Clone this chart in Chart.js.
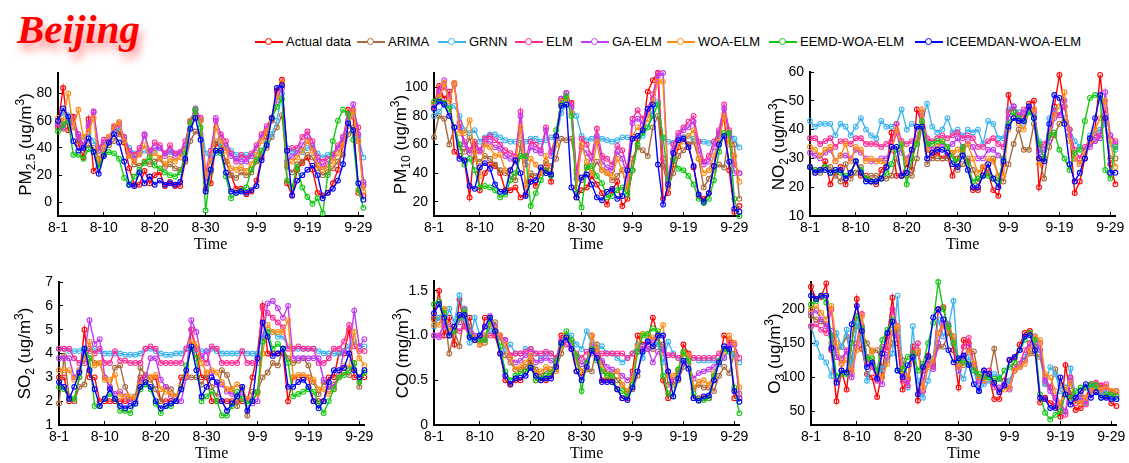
<!DOCTYPE html>
<html>
<head>
<meta charset="utf-8">
<script src="https://cdn.jsdelivr.net/npm/chart.js@4.4.1/dist/chart.umd.min.js"></script>
<style>
  html, body { margin: 0; padding: 0; background: #fff; }
  body { width: 1129px; height: 463px; position: relative; overflow: hidden; font-family: 'Liberation Sans', Arial, sans-serif; }
  #title { position: absolute; left: 17px; top: 5px; line-height: 1; font: italic bold 41px 'Liberation Serif', 'Times New Roman', serif; color: #ff0000; text-shadow: 3px 7px 9px rgba(255, 40, 40, 0.55); }
  #legend { position: absolute; left: 0; top: 34px; width: 1129px; height: 16px; font-size: 13px; line-height: 16px; white-space: nowrap; color: #000; }
  .item { position: absolute; top: 0; display: flex; align-items: center; gap: 3px; }
  .mk { position: relative; width: 28px; height: 2px; background: var(--c); }
  .mk::after { content: ''; position: absolute; left: 10px; top: -3.5px; width: 5px; height: 5px; border: 1.5px solid var(--c); border-radius: 50%; background: #fff; }
  canvas { position: absolute; }
</style>
</head>
<body>
<div id="title">Beijing</div>
<div id="legend"></div>
<script>
const days = ['8-1','8-2','8-3','8-4','8-5','8-6','8-7','8-8','8-9','8-10','8-11','8-12','8-13','8-14','8-15','8-16',
  '8-17','8-18','8-19','8-20','8-21','8-22','8-23','8-24','8-25','8-26','8-27','8-28','8-29','8-30','8-31',
  '9-1','9-2','9-3','9-4','9-5','9-6','9-7','9-8','9-9','9-10','9-11','9-12','9-13','9-14','9-15','9-16',
  '9-17','9-18','9-19','9-20','9-21','9-22','9-23','9-24','9-25','9-26','9-27','9-28','9-29','9-30'];
const tickDays = ['8-1', '8-10', '8-20', '8-30', '9-9', '9-19', '9-29'];

const models = ['Actual data', 'ARIMA', 'GRNN', 'ELM', 'GA-ELM', 'WOA-ELM', 'EEMD-WOA-ELM', 'ICEEMDAN-WOA-ELM'];
const keys = ['actual', 'arima', 'grnn', 'elm', 'gaelm', 'woaelm', 'eemd', 'iceemdan'];
const colors = ['#ff0000', '#a8693c', '#3cb4f0', '#ff2a96', '#bf3cf0', '#ff8c14', '#14c814', '#0000ff'];

const pm25 = {
  actual: [57,84,53,63,43,33,61,23,28,35,45,55,52,44,25,13,13,23,14,20,22,12,15,12,12,30,59,66,62,10,14,43,40,30,20,10,10,6,8,16,33,48,61,82,90,14,5,24,29,33,24,7,5,7,14,24,43,68,63,7,5],
  arima: [55,54,60,58,45,38,42,40,32,38,42,45,50,48,35,28,27,30,28,30,32,26,28,25,24,30,45,52,50,15,22,45,42,30,20,18,22,20,22,30,35,40,48,55,64,26,22,28,30,35,33,25,20,22,25,30,35,50,55,45,12],
  grnn: [58,66,64,56,50,46,50,45,38,42,48,52,55,48,40,36,36,38,37,38,40,36,37,36,36,40,55,64,60,36,34,36,44,42,38,35,34,35,34,35,38,44,50,60,80,40,37,38,37,40,42,36,33,35,36,40,48,60,65,48,33],
  elm: [55,58,60,62,50,42,55,66,40,46,48,55,57,48,38,35,40,49,38,44,42,36,42,36,37,45,60,68,62,22,38,60,50,45,36,30,35,32,36,42,50,56,62,80,86,38,40,40,48,52,45,33,30,32,35,42,48,65,68,55,13],
  gaelm: [58,55,60,58,48,40,58,67,38,44,46,56,58,46,36,32,36,50,36,40,40,34,38,34,36,42,60,69,60,18,32,62,48,40,34,32,30,30,34,40,48,54,60,75,84,30,34,36,42,48,40,30,26,28,33,40,46,60,72,50,15],
  woaelm: [62,60,80,55,68,48,52,62,30,40,48,56,59,45,34,30,35,42,33,36,33,28,32,30,33,38,60,63,60,20,30,55,45,38,25,24,26,23,28,35,45,52,60,78,88,28,30,33,38,45,38,27,24,26,30,36,42,56,67,45,8],
  eemd: [52,57,60,35,35,32,39,37,26,35,37,36,32,18,13,19,24,29,33,27,25,22,20,19,22,36,58,68,55,-6,24,38,36,19,3,7,9,11,24,31,38,43,62,70,76,16,11,26,11,4,-1,3,-8,20,45,60,68,65,46,9,-4],
  iceemdan: [60,69,63,45,38,40,47,37,21,34,44,50,44,30,13,12,22,14,19,13,16,13,14,13,15,32,54,62,46,8,24,38,38,22,8,7,8,7,9,12,31,42,62,84,86,38,5,16,20,24,27,20,3,7,10,16,28,58,53,14,2]
};
const pm10 = {
  actual: [88,101,92,97,55,52,48,23,60,28,40,46,45,40,28,28,30,23,25,36,31,40,44,34,66,92,92,89,23,28,30,38,32,26,18,28,34,17,22,42,64,70,97,105,110,22,26,46,58,65,60,44,24,22,26,45,68,80,42,13,17],
  arima: [65,80,78,60,72,58,55,65,50,48,52,50,46,42,40,38,35,60,32,40,38,42,48,45,50,64,63,64,42,35,45,40,48,42,40,35,38,42,28,50,58,56,52,72,80,45,30,40,52,56,60,62,50,30,36,42,46,44,68,60,22],
  grnn: [80,83,88,87,87,80,70,68,70,62,65,67,67,65,63,62,62,63,62,64,64,62,63,65,64,82,88,86,80,66,63,64,63,64,63,62,63,65,65,64,66,66,72,84,90,64,62,61,64,65,66,64,62,62,61,62,64,66,68,64,58],
  elm: [86,95,100,94,102,75,62,56,62,56,64,66,63,60,56,54,52,83,50,62,60,56,72,55,66,90,96,88,40,64,60,52,71,52,50,46,59,56,43,78,84,78,85,95,110,50,34,60,68,72,76,80,62,48,52,62,70,88,70,46,40],
  gaelm: [87,98,105,92,103,72,60,54,58,55,62,62,58,57,52,50,48,80,46,58,56,54,70,52,64,92,96,86,36,58,54,48,66,48,44,42,55,50,36,75,78,74,82,92,108,110,36,56,66,70,72,76,56,46,48,58,68,85,66,40,40],
  woaelm: [88,93,103,90,103,68,68,77,55,38,60,58,52,53,42,42,48,72,30,50,46,40,52,40,60,90,92,82,30,60,48,40,62,42,40,38,50,42,30,66,72,70,78,90,104,104,30,50,60,62,66,70,50,40,42,52,62,80,60,52,34],
  eemd: [90,91,89,85,72,60,46,50,42,30,31,30,28,23,25,35,40,52,52,17,26,35,42,38,70,88,94,80,26,16,44,45,38,33,23,24,28,30,25,42,60,68,72,80,88,65,35,50,43,42,38,32,22,19,22,35,55,68,68,22,10],
  iceemdan: [85,90,88,80,72,50,49,31,29,44,47,43,32,27,27,42,49,40,24,34,35,44,40,39,66,87,88,30,23,37,39,32,23,21,27,29,22,24,42,64,66,70,85,88,46,18,32,54,63,64,58,45,25,20,26,45,60,66,48,15,13]
};
const no2 = {
  actual: [27,26,26,29,21,25,27,21,25,29,24,24,22,21,26,27,39,24,24,28,26,47,42,33,31,32,30,31,24,30,33,29,19,19,27,25,19,17,28,52,46,43,44,49,50,20,30,38,48,59,48,40,18,22,30,36,40,59,42,28,21],
  arima: [27,25,25,27,27,24,22,28,23,25,27,23,24,24,23,23,24,30,24,24,24,30,42,28,30,30,30,30,32,26,28,30,26,22,24,26,30,24,22,28,35,40,33,33,42,30,23,34,38,42,44,38,30,28,30,35,36,38,43,30,30],
  grnn: [43,41,42,42,42,38,42,41,38,41,44,40,38,37,43,41,41,42,47,40,42,41,42,49,41,39,40,44,39,40,38,40,39,40,35,43,42,37,37,47,48,46,42,48,45,36,30,44,47,45,48,40,36,34,33,38,39,40,42,35,33],
  elm: [37,37,35,36,37,34,36,36,35,37,37,35,35,35,34,35,36,42,36,35,36,37,46,37,36,37,38,37,38,39,37,38,37,34,34,36,37,35,34,46,48,45,47,48,47,34,35,38,46,45,48,40,33,30,34,36,38,38,47,38,36],
  gaelm: [32,31,30,32,33,29,31,31,30,33,32,30,29,29,30,30,33,39,32,30,33,35,45,35,33,34,35,34,35,37,34,36,34,30,30,33,33,31,30,44,48,44,46,47,46,32,33,36,44,45,50,38,30,28,32,34,36,37,53,38,35],
  woaelm: [34,33,31,33,34,29,31,35,29,34,33,29,30,29,29,28,33,40,34,29,32,36,47,33,32,34,36,34,32,33,32,35,30,25,27,30,29,24,24,40,44,42,40,46,47,28,30,38,45,48,53,36,30,28,32,36,40,44,50,36,27],
  eemd: [27,26,26,27,25,26,25,24,25,29,26,23,22,22,23,25,28,33,35,21,30,35,43,35,35,36,36,34,30,29,34,28,22,23,24,24,23,22,30,42,46,44,43,46,44,35,30,38,39,33,30,26,32,33,43,51,52,51,26,23,34],
  iceemdan: [27,25,26,26,25,26,26,23,25,29,25,22,22,22,23,27,34,34,24,25,33,41,41,30,32,33,33,32,28,27,31,26,20,20,24,28,23,20,29,41,44,43,43,48,44,30,29,42,52,51,42,28,22,25,30,37,44,52,44,25,25]
};
const so2 = {
  actual: [3,3,2,2,3,5,3,3,2,2,2,2,2,2,2,2,3,3,3,3,2,2,2,2,3,3,5,4,3,3,2,2,2,2,2,2,2,2,3,4,6,4,4,4,4,2,3,3,3,3,2,2,2,3,3,4,4,5,3,3,3],
  arima: [1.9,3.9,2.2,2.0,2.6,2.7,3.8,3.6,3.6,3.0,2.6,3.4,3.5,2.6,2.1,2.2,3.4,3.1,2.9,2.5,2.0,2.6,2.5,2.2,2.6,3.1,3.0,3.0,2.7,3.1,2.6,2.2,3.3,3.1,2.5,1.8,2.6,1.4,2.4,2.4,3.0,3.2,3.6,3.5,4.2,3.8,3.6,3.7,3.8,3.5,2.8,2.3,2.8,2.5,2.7,3.0,3.2,3.1,3.6,2.6,3.2],
  grnn: [4.2,4.2,4.1,4.1,4.1,4.2,4.1,4.2,4.1,4.0,4.0,4.0,4.0,3.95,3.95,3.95,4.0,4.2,4.2,4.1,4.0,3.95,3.95,4.0,4.0,4.2,4.2,4.15,4.1,4.1,4.2,4.1,4.0,4.0,4.0,4.0,4.1,4.0,4.0,4.0,4.8,5.0,4.9,4.7,4.7,4.3,4.2,4.2,4.2,4.2,4.2,4.1,4.0,4.0,4.0,4.0,4.1,4.3,4.5,4.3,4.3],
  elm: [4.2,4.2,4.2,3.8,3.6,3.6,4.2,4.0,4.2,3.6,3.6,4.1,3.7,3.7,3.6,3.6,3.6,4.2,4.3,4.2,3.6,3.6,3.6,3.6,3.6,4.2,5.0,4.2,3.9,3.6,4.3,4.2,3.6,3.6,3.6,3.6,4.1,3.6,3.6,3.6,5.9,5.7,5.5,5.3,5.1,4.2,4.2,4.3,4.2,4.2,4.2,3.6,3.6,3.8,4.2,4.2,4.5,5.2,4.3,4.1,4.1],
  gaelm: [3.8,3.8,3.8,3.0,3.3,4.0,5.4,4.4,4.6,3.0,2.6,2.3,2.4,2.2,2.0,2.0,2.8,3.0,3.8,3.8,2.9,2.6,2.2,2.0,2.0,3.0,5.4,4.9,3.8,4.1,3.2,2.7,2.7,2.4,2.3,2.2,2.3,2.0,1.9,2.0,4.5,6.1,6.2,5.9,5.5,6.0,3.8,3.8,3.8,3.8,3.8,3.8,2.9,2.6,2.6,3.1,4.1,4.0,5.8,4.3,4.6],
  woaelm: [3.3,3.3,3.3,2.9,3.3,3.8,4.5,3.5,3.6,2.9,2.9,3.1,2.2,2.2,2.2,2.1,2.7,2.8,3.0,3.1,2.5,2.4,2.3,2.2,2.6,3.1,4.5,4.4,3.6,3.2,3.3,3.2,2.8,2.5,2.5,2.7,2.5,2.1,2.0,2.3,4.0,5.2,4.9,4.9,4.9,5.4,3.0,3.1,3.1,3.0,2.9,2.5,2.5,2.3,2.5,3.0,3.5,3.4,4.9,3.8,3.5],
  eemd: [2.6,2.5,2.1,2.1,3.0,4.2,3.8,1.8,1.8,2.1,2.3,2.1,1.6,1.6,1.5,1.9,2.5,2.7,2.5,1.9,1.5,1.8,1.8,2.0,2.5,3.5,4.2,3.8,2.0,2.2,2.4,2.0,1.4,1.4,1.8,2.4,2.1,1.9,2.0,2.4,4.5,4.9,4.2,4.4,4.2,3.6,2.2,2.3,2.4,2.5,2.4,1.9,1.5,2.0,2.5,3.0,3.1,3.3,3.6,2.8,3.2],
  iceemdan: [2.8,2.6,2.1,2.6,3.2,4.2,3.3,2.5,1.8,2.1,2.5,2.1,1.8,1.7,1.8,1.9,2.6,2.8,2.6,2.0,1.7,1.8,1.9,2.0,2.5,3.3,4.3,3.3,2.2,2.6,3.0,2.8,2.0,1.6,1.9,2.2,2.6,1.6,2.0,3.8,5.3,4.7,3.9,4.0,4.2,2.6,2.6,2.8,2.9,2.6,2.0,1.7,2.0,2.8,3.3,3.3,3.4,4.0,3.3,3.0,3.3]
};
const co = {
  actual: [1.2,1.5,1.0,1.2,0.9,1.4,1.1,1.2,0.95,0.9,1.2,1.2,1.0,0.8,0.5,0.45,0.5,0.5,0.6,0.7,0.5,0.5,0.5,0.55,0.7,1.0,1.0,0.9,0.6,0.55,0.7,1.0,0.8,0.5,0.5,0.5,0.4,0.3,0.3,0.6,1.0,0.9,0.95,1.2,1.0,0.5,0.3,0.5,0.6,0.9,0.8,0.3,0.3,0.3,0.3,0.5,0.7,1.0,0.95,0.3,0.3],
  arima: [1.18,1.2,1.28,0.8,1.05,0.88,1.25,1.1,0.98,0.98,0.92,1.1,1.15,0.98,0.78,0.7,0.62,0.62,0.65,0.72,0.62,0.55,0.6,0.62,0.62,0.8,0.95,0.92,0.72,0.6,0.62,0.6,0.9,0.7,0.58,0.58,0.5,0.45,0.35,0.4,0.55,0.88,0.85,0.85,0.92,0.9,0.45,0.45,0.5,0.65,0.75,0.4,0.45,0.42,0.42,0.38,0.55,0.65,0.58,0.8,0.35],
  grnn: [1.1,1.2,1.1,1.3,1.15,1.45,1.2,0.92,1.2,1.0,1.0,1.05,1.05,1.0,0.85,0.9,0.8,0.8,0.85,0.85,0.8,0.75,0.8,0.8,0.75,0.9,1.0,1.0,0.9,0.85,1.05,0.9,0.85,0.88,0.8,0.8,0.75,0.7,0.75,0.8,0.9,0.75,0.95,0.95,0.9,0.7,0.93,0.8,0.75,0.72,0.75,0.75,0.72,0.72,0.72,0.72,0.68,0.75,0.85,0.78,0.7],
  elm: [1.0,1.0,1.12,1.0,1.1,1.05,1.1,1.0,0.98,0.95,0.98,1.0,1.02,0.98,0.95,0.78,0.8,0.8,0.82,0.85,0.8,0.8,0.82,0.8,0.75,0.95,0.9,0.85,0.8,0.75,0.82,0.8,0.8,0.8,0.8,0.8,0.8,0.8,0.75,0.8,0.82,0.85,0.9,0.95,0.98,0.8,0.78,0.78,0.75,0.8,0.78,0.75,0.75,0.75,0.75,0.75,0.8,0.85,0.92,0.9,0.75],
  gaelm: [1.0,0.98,1.15,1.1,1.1,1.15,1.3,1.05,1.0,0.95,1.1,1.22,1.1,1.0,0.95,0.75,0.7,0.72,0.78,0.8,0.7,0.72,0.75,0.72,0.68,0.9,0.95,0.9,0.75,0.68,0.72,0.88,0.8,0.72,0.65,0.62,0.6,0.55,0.5,0.55,0.82,0.88,0.85,0.7,0.82,0.85,0.6,0.5,0.58,0.7,0.68,0.52,0.58,0.6,0.62,0.65,0.72,0.75,0.88,0.9,0.3],
  woaelm: [1.12,1.12,1.3,1.05,1.1,1.2,1.25,1.0,0.98,0.9,1.0,1.15,1.08,1.0,0.9,0.75,0.62,0.65,0.7,0.78,0.58,0.6,0.65,0.62,0.6,0.88,1.0,0.95,0.7,0.6,0.65,1.0,0.85,0.62,0.55,0.55,0.6,0.45,0.38,0.52,0.88,1.02,1.0,0.98,1.0,1.12,0.55,0.55,0.62,0.8,0.78,0.42,0.48,0.5,0.45,0.58,0.7,0.82,1.0,0.92,0.42],
  eemd: [1.35,1.38,1.25,1.0,1.05,1.2,1.28,1.0,0.95,0.95,0.95,1.18,1.05,0.88,0.6,0.5,0.55,0.58,0.6,0.65,0.5,0.52,0.55,0.58,0.72,0.9,1.05,0.95,0.78,0.38,0.7,0.85,0.72,0.6,0.55,0.55,0.4,0.38,0.32,0.45,0.82,1.0,1.02,1.08,1.05,0.55,0.35,0.32,0.62,0.82,0.72,0.35,0.28,0.28,0.3,0.55,0.72,0.85,0.82,0.42,0.13],
  iceemdan: [1.25,1.35,1.2,1.0,1.1,1.23,1.23,0.98,0.95,1.0,1.1,1.2,1.05,0.8,0.55,0.46,0.52,0.53,0.55,0.64,0.55,0.5,0.52,0.52,0.65,0.92,0.98,0.85,0.6,0.5,0.65,0.83,0.75,0.48,0.48,0.48,0.4,0.3,0.28,0.42,0.6,0.82,0.93,0.88,1.0,1.0,0.6,0.32,0.52,0.72,0.63,0.3,0.27,0.32,0.33,0.5,0.7,0.88,0.85,0.38,0.26]
};
const o3 = {
  actual: [233,215,218,238,140,65,110,82,150,215,142,105,100,71,110,160,217,150,82,98,145,66,110,132,120,200,203,170,140,85,155,150,118,80,110,100,68,68,95,125,128,148,165,168,145,63,70,62,58,42,118,72,52,55,70,90,80,88,72,62,58],
  arima: [190,185,182,178,150,140,145,160,125,175,165,150,138,140,115,130,150,170,125,100,130,135,110,125,118,145,145,165,155,118,118,140,138,100,100,102,142,98,90,95,110,115,125,135,135,130,92,85,112,88,85,80,65,75,85,88,90,85,85,80,80],
  grnn: [175,150,130,122,102,165,145,170,115,180,155,95,120,100,112,125,135,220,110,85,175,95,70,95,128,185,160,175,212,110,98,130,110,80,90,95,105,100,90,95,115,120,130,150,160,140,90,115,105,80,75,113,72,65,62,85,88,78,80,70,68],
  elm: [175,178,170,165,200,130,120,140,105,150,193,120,115,95,145,140,200,175,95,88,138,150,80,118,115,165,180,175,160,120,145,158,120,95,100,110,85,80,90,85,115,120,140,150,160,150,100,85,70,58,45,100,62,65,60,80,92,88,90,78,75],
  gaelm: [195,198,185,175,168,130,128,138,100,145,175,130,120,100,90,130,165,160,100,95,130,140,95,120,112,150,178,178,150,110,130,145,115,95,95,105,90,85,88,82,110,115,125,145,150,140,95,80,65,62,50,95,65,70,65,75,85,80,85,75,72],
  woaelm: [200,205,195,185,205,150,120,125,110,140,190,125,140,105,100,120,170,175,110,100,130,140,85,115,125,165,175,170,160,115,125,140,120,100,95,105,95,78,82,85,110,115,120,140,160,155,105,100,80,60,80,92,65,62,70,80,85,82,86,80,78],
  eemd: [207,212,220,210,160,102,105,105,150,190,172,128,128,110,155,170,185,110,112,130,135,110,120,150,180,240,200,175,150,125,122,120,110,105,100,100,98,98,110,115,122,140,155,165,155,75,48,38,45,50,75,70,80,85,85,90,88,70,75,75,72],
  iceemdan: [220,215,220,220,143,92,110,107,178,205,168,115,122,98,135,165,182,110,100,118,130,75,115,130,188,200,185,140,122,128,132,118,90,80,110,105,92,78,88,126,130,140,160,162,140,70,68,55,55,100,75,60,70,80,90,70,78,70,70,68,68]
};

const pm25Ticks = [0, 20, 40, 60, 80];
const pm10Ticks = [20, 40, 60, 80, 100];
const no2Ticks = [10, 20, 30, 40, 50, 60];
const so2Ticks = [1, 2, 3, 4, 5, 6, 7];
const coTicks = [0, 0.5, 1, 1.5];
const o3Ticks = [50, 100, 150, 200];

// legend, each entry placed where the reference puts it
const legendLeft = [255, 357, 438, 515, 581, 667, 769, 915];
const legend = document.getElementById('legend');
models.forEach((m, i) => {
  const it = document.createElement('div');
  it.className = 'item';
  it.style.left = legendLeft[i] + 'px';
  it.innerHTML = `<span class="mk" style="--c:${colors[i]}"></span><span>${m}</span>`;
  legend.appendChild(it);
});

const tickFont = { family: "'Liberation Sans', Arial, sans-serif", size: 14 };
const xTickIdx = tickDays.map((d) => days.indexOf(d));

// rotated y-axis title with sub/superscripts
const yTitle = {
  id: 'yTitle',
  afterDraw(chart, args, opts) {
    const { ctx, chartArea } = chart;
    ctx.save();
    ctx.translate(opts.x, (chartArea.top + chartArea.bottom) / 2);
    ctx.rotate(-Math.PI / 2);
    const parts = opts.parts.map(([t, k]) => {
      const size = k ? 12 : 17;
      ctx.font = `${size}px 'Liberation Sans', Arial, sans-serif`;
      return { t, k, size, w: ctx.measureText(t).width };
    });
    let x = -parts.reduce((s, p) => s + p.w, 0) / 2;
    ctx.fillStyle = '#000';
    ctx.textBaseline = 'alphabetic';
    parts.forEach((p) => {
      ctx.font = `${p.size}px 'Liberation Sans', Arial, sans-serif`;
      const dy = p.k === 'sub' ? 4 : p.k === 'sup' ? -7 : 0;
      ctx.fillText(p.t, x, dy);
      x += p.w;
    });
    ctx.restore();
  },
};

function drawPanel(p) {
  const [bx, by, bw, bh] = p.box;
  const [pl, pt, pr, pb] = p.plot;
  const cv = document.createElement('canvas');
  cv.width = bw;
  cv.height = bh;
  cv.style.left = bx + 'px';
  cv.style.top = by + 'px';
  document.body.appendChild(cv);

  const datasets = keys.map((k, i) => ({
    label: models[i],
    data: p.series[k].map((v, j) => ({ x: j, y: v })),
    borderColor: colors[i],
    pointBorderColor: colors[i],
    pointBackgroundColor: 'rgba(0,0,0,0)',
    borderWidth: 1.4,
    pointRadius: 2.4,
    pointBorderWidth: 1.1,
    tension: 0,
    clip: false,
    order: keys.length - i,
  }));

  new Chart(cv, {
    type: 'line',
    data: { datasets },
    options: {
      responsive: false,
      animation: false,
      events: [],
      devicePixelRatio: 1,
      layout: { padding: { left: 0, top: pt - by, right: bx + bw - pr, bottom: 0 } },
      plugins: {
        legend: { display: false },
        tooltip: { enabled: false },
        yTitle: { x: p.titleX, parts: p.title },
      },
      scales: {
        x: {
          type: 'linear',
          min: 0,
          max: 60,
          afterBuildTicks: (s) => { s.ticks = xTickIdx.map((v) => ({ value: v })); },
          afterFit: (s) => { s.height = by + bh - pb; s.paddingLeft = 0; s.paddingRight = 0; },
          ticks: { autoSkip: false, maxRotation: 0, padding: 8, color: '#000', font: tickFont, callback: (v) => days[v] },
          grid: { drawOnChartArea: false, tickLength: -4, color: '#000', lineWidth: 1 },
          border: { color: '#000', width: 2 },
          title: { display: true, text: 'Time', color: '#000', font: { family: "'Liberation Serif', 'Times New Roman', serif", size: 16 }, padding: { top: 0, bottom: p.timePad } },
        },
        y: {
          min: p.yMin,
          max: p.yMax,
          afterBuildTicks: (s) => { s.ticks = p.yTicks.map((v) => ({ value: v })); },
          afterFit: (s) => { s.width = pl - bx; s.paddingTop = 0; s.paddingBottom = 0; },
          ticks: { padding: 10, color: '#000', font: tickFont },
          grid: { drawOnChartArea: false, tickLength: -4, color: '#000', lineWidth: 1 },
          border: { color: '#000', width: 2 },
        },
      },
    },
    plugins: [yTitle],
  });
}

const panels = [
  { series: pm25, yMin: -10, yMax: 95, yTicks: pm25Ticks, title: [['PM'], ['2.5', 'sub'], [' (ug/m'], ['3', 'sup'], [')']],
    box: [0, 60, 376, 200], plot: [58, 73, 363.4, 216], titleX: 31, timePad: 6 },
  { series: pm10, yMin: 10, yMax: 110, yTicks: pm10Ticks, title: [['PM'], ['10', 'sub'], [' (ug/m'], ['3', 'sup'], [')']],
    box: [376, 60, 376, 200], plot: [434, 73, 739.4, 216], titleX: 30, timePad: 6 },
  { series: no2, yMin: 10, yMax: 60, yTicks: no2Ticks, title: [['NO'], ['2', 'sub'], [' (ug/m'], ['3', 'sup'], [')']],
    box: [752, 60, 377, 200], plot: [810, 72, 1115.4, 216], titleX: 32, timePad: 6 },
  { series: so2, yMin: 1, yMax: 7, yTicks: so2Ticks, title: [['SO'], ['2', 'sub'], [' (ug/m'], ['3', 'sup'], [')']],
    box: [0, 268, 376, 195], plot: [59, 282, 364.4, 425], titleX: 30, timePad: 0 },
  { series: co, yMin: 0, yMax: 1.61, yTicks: coTicks, title: [['CO (mg/m'], ['3', 'sup'], [')']],
    box: [376, 268, 376, 195], plot: [434, 281, 739.4, 425], titleX: 32, timePad: 0 },
  { series: o3, yMin: 30, yMax: 240, yTicks: o3Ticks, title: [['O'], ['3', 'sub'], [' (ug/m'], ['3', 'sup'], [')']],
    box: [752, 268, 377, 195], plot: [811, 282, 1116.4, 425], titleX: 28, timePad: 0 },
];

panels.forEach(drawPanel);
</script>
</body>
</html>
